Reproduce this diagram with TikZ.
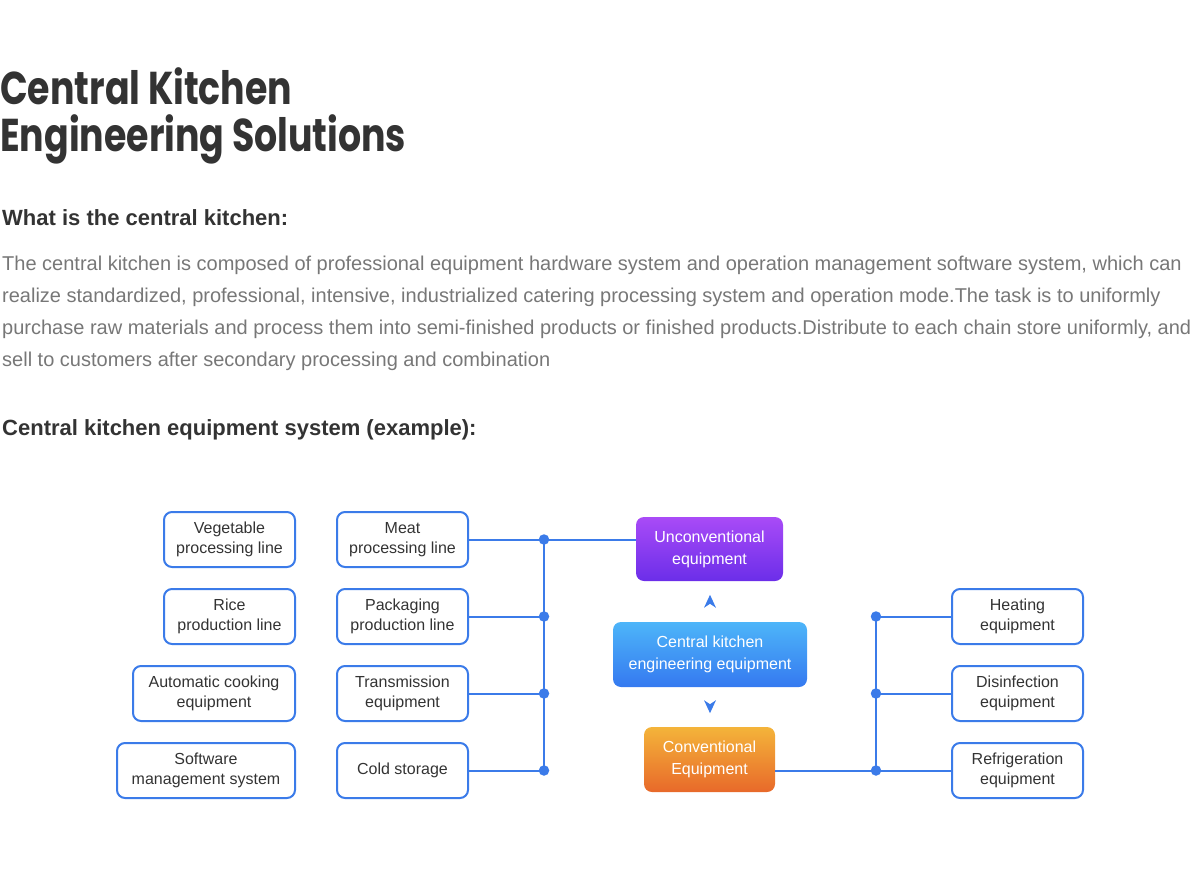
\documentclass[tikz,border=0pt]{standalone}
\usepackage{fontspec}
\setmainfont{Liberation Sans}
\newfontfamily\titlefont{Poppins}[FakeStretch=0.79]
\usetikzlibrary{arrows.meta,positioning}
\definecolor{kblue}{HTML}{3B7BE9}
\definecolor{ktext}{HTML}{333333}
\definecolor{kgray}{HTML}{777777}
\definecolor{purpletop}{HTML}{A94BF7}
\definecolor{purplebot}{HTML}{6B2EE9}
\definecolor{bluetop}{HTML}{4DB5F9}
\definecolor{bluebot}{HTML}{3579F0}
\definecolor{orangetop}{HTML}{F4B43A}
\definecolor{orangebot}{HTML}{E8692A}
\tikzset{
	eqbox/.style={draw=kblue, line width=2pt, rounded corners=8pt, minimum height=55pt,
		align=center, text=ktext, font=\fontsize{16}{20}\selectfont, inner sep=0pt},
	colbox/.style={rounded corners=8pt, align=center, text=white,
		font=\fontsize{16}{22}\selectfont, inner sep=0pt},
	bus/.style={draw=kblue, line width=2pt},
	jdot/.style={fill=kblue, circle, inner sep=0pt, minimum size=10.5pt},
	tiphead/.style={fill=kblue},
	textline/.style={anchor=base west, inner sep=0pt}
}
\begin{document}
\begin{tikzpicture}[x=1pt,y=-1pt]
	\useasboundingbox (0,0) rectangle (1200,888);
	% Titre
	\node[textline, text=ktext, font=\titlefont\bfseries\fontsize{46}{46}\selectfont] (title1) at (0,105) {Central Kitchen};
	\node[textline, text=ktext, font=\titlefont\bfseries\fontsize{46}{46}\selectfont] (title2) at (0,152) {Engineering Solutions};
%
	% Texte
	\node[textline, text=ktext, font=\bfseries\fontsize{22}{26}\selectfont] (head1) at (2,225) {What is the central kitchen:};
	\node[textline, text=kgray, font=\fontsize{20}{32}\selectfont] (para1) at (2,270) {The central kitchen is composed of professional equipment hardware system and operation management software system, which can};
	\node[textline, text=kgray, font=\fontsize{20}{32}\selectfont] (para2) at (2,302) {realize standardized, professional, intensive, industrialized catering processing system and operation mode.The task is to uniformly};
	\node[textline, text=kgray, font=\fontsize{20}{32}\selectfont] (para3) at (2,334) {purchase raw materials and process them into semi-finished products or finished products.Distribute to each chain store uniformly, and};
	\node[textline, text=kgray, font=\fontsize{20}{32}\selectfont] (para4) at (2,366) {sell to customers after secondary processing and combination};
	\node[textline, text=ktext, font=\bfseries\fontsize{22}{26}\selectfont] (head2) at (2,435) {Central kitchen equipment system (example):};
%
	% Colonne de gauche
	\node[eqbox, minimum width=131pt] (veg) at (229.5,539.5) {Vegetable\\processing line};
	\node[eqbox, minimum width=131pt] (rice) at (229.5,616.5) {Rice\\production line};
	\node[eqbox, minimum width=162pt] (auto) at (214,693.5) {Automatic cooking\\equipment};
	\node[eqbox, minimum width=178pt] (soft) at (206,770.5) {Software\\management system};
	% Deuxieme colonne
	\node[eqbox, minimum width=131pt] (meat) at (402.5,539.5) {Meat\\processing line};
	\node[eqbox, minimum width=131pt] (pack) at (402.5,616.5) {Packaging\\production line};
	\node[eqbox, minimum width=131pt] (trans) at (402.5,693.5) {Transmission\\equipment};
	\node[eqbox, minimum width=131pt] (cold) at (402.5,770.5) {Cold storage};
%
	% Blocs centraux
	\node[colbox, top color=purpletop, bottom color=purplebot, minimum width=147pt, minimum height=64pt] (unc) at (709.5,549) {Unconventional\\equipment};
	\node[colbox, top color=bluetop, bottom color=bluebot, minimum width=194pt, minimum height=65pt] (cen) at (710,654.5) {Central kitchen\\engineering equipment};
	\node[colbox, top color=orangetop, bottom color=orangebot, minimum width=131pt, minimum height=65pt] (conv) at (709.5,759.5) {Conventional\\Equipment};
	% Fleches
	\coordinate (uptip) at ([yshift=27pt]cen.north);
	\coordinate (downtip) at ([yshift=-26pt]cen.south);
	\fill[tiphead] (uptip) -- ++(-6pt,-13pt) -- ++(6pt,4pt) -- ++(6pt,-4pt) -- cycle;
	\fill[tiphead] (downtip) -- ++(-6pt,13pt) -- ++(6pt,-4pt) -- ++(6pt,4pt) -- cycle;
%
	% Colonne de droite
	\node[eqbox, minimum width=131pt] (heat) at (1017.5,616.5) {Heating\\equipment};
	\node[eqbox, minimum width=131pt] (dis) at (1017.5,693.5) {Disinfection\\equipment};
	\node[eqbox, minimum width=131pt] (refr) at (1017.5,770.5) {Refrigeration\\equipment};
%
	% Liaisons
	\coordinate (j1) at ([xshift=75pt]meat.east);
	\coordinate (j2) at ([xshift=75pt]pack.east);
	\coordinate (j3) at ([xshift=75pt]trans.east);
	\coordinate (j4) at ([xshift=75pt]cold.east);
	\coordinate (r1) at ([xshift=-75pt]heat.west);
	\coordinate (r2) at ([xshift=-75pt]dis.west);
	\coordinate (r3) at ([xshift=-75pt]refr.west);
	\draw[bus] (meat.east) -- (unc.west |- meat.east);
	\draw[bus] (pack.east) -- (j2);
	\draw[bus] (trans.east) -- (j3);
	\draw[bus] (cold.east) -- (j4);
	\draw[bus] (j1) -- (j4);
	\draw[bus] (conv.east |- refr.west) -- (refr.west);
	\draw[bus] (heat.west) -- (r1);
	\draw[bus] (dis.west) -- (r2);
	\draw[bus] (r1) -- (r3);
	\foreach \j in {j1,j2,j3,j4,r1,r2,r3}
		\node[jdot] (dot-\j) at (\j) {};

\end{tikzpicture}
\end{document}
